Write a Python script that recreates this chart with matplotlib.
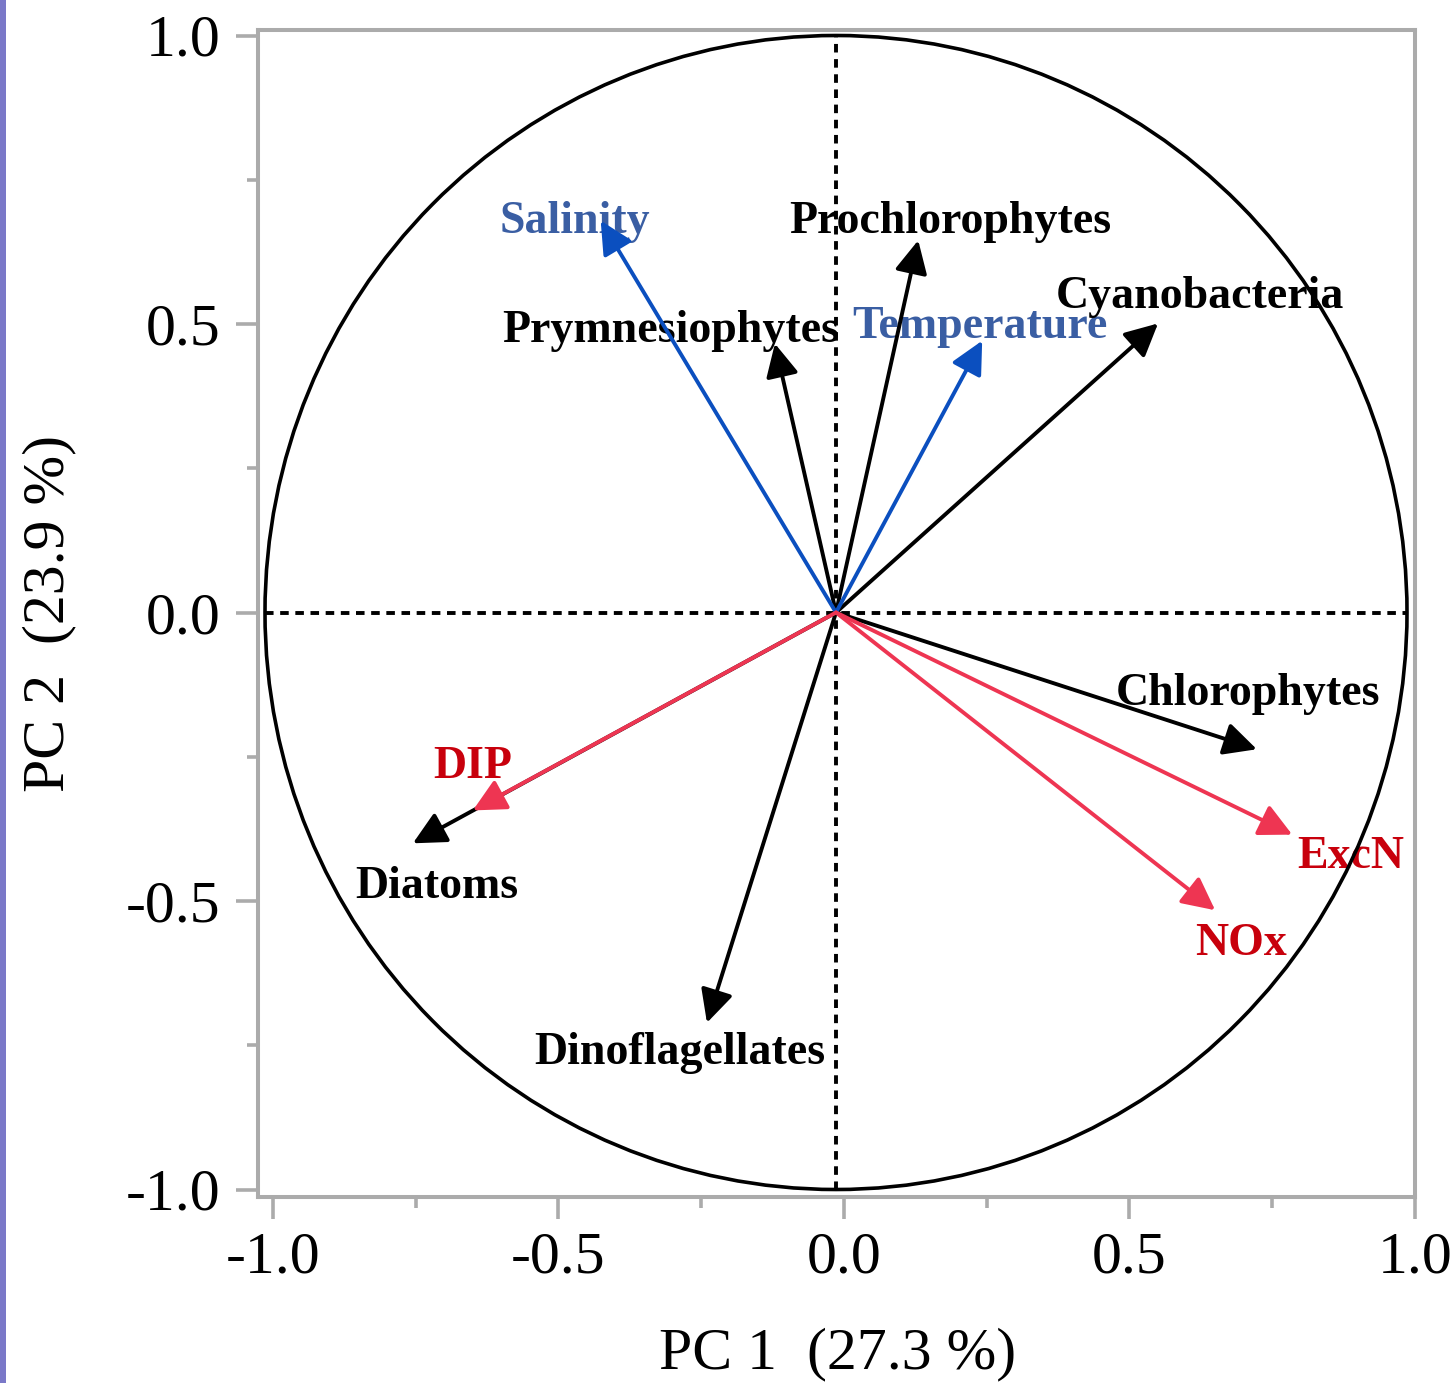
import matplotlib
matplotlib.use("Agg")
import matplotlib.pyplot as plt
from matplotlib.patches import Ellipse, Rectangle
from matplotlib.ticker import FixedLocator

plt.rcParams['font.family'] = ['Liberation Serif', 'DejaVu Serif']
plt.rcParams['axes.unicode_minus'] = False

# ---- data: PCA loadings (PC1, PC2) ----
variables = ["Salinity", "Prymnesiophytes", "Prochlorophytes", "Temperature",
             "Cyanobacteria", "Chlorophytes", "ExcN", "NOx", "DIP",
             "Diatoms", "Dinoflagellates"]
pc1 = [-0.412, -0.107, 0.144, 0.256, 0.564, 0.737, 0.799, 0.664, -0.636, -0.741, -0.226]
pc2 = [0.679, 0.466, 0.645, 0.471, 0.501, -0.237, -0.385, -0.516, -0.343, -0.400, -0.711]
groups = ["env", "phyto", "phyto", "env", "phyto", "phyto", "nut", "nut", "nut",
          "phyto", "phyto"]

pc1_pct = 27.3
pc2_pct = 23.9
tick_values = [-1.0, -0.5, 0.0, 0.5, 1.0]
tick_labels = ["-1.0", "-0.5", "0.0", "0.5", "1.0"]
minor_values = [-0.75, -0.25, 0.25, 0.75]

# ---- styles / layout ----
arrow_colors = {"env": "#0b4fbf", "phyto": "#000000", "nut": "#ee3552"}
text_colors = {"env": "#3a5ea3", "phyto": "#000000", "nut": "#c8000c"}
arrow_z = {"phyto": 4, "env": 5, "nut": 5}
label_pos = {
    "Salinity": (-0.457, 0.657),
    "Prymnesiophytes": (-0.289, 0.468),
    "Prochlorophytes": (0.200, 0.657),
    "Temperature": (0.252, 0.475),
    "Cyanobacteria": (0.637, 0.527),
    "Chlorophytes": (0.722, -0.161),
    "ExcN": (0.902, -0.442),
    "NOx": (0.709, -0.594),
    "DIP": (-0.636, -0.286),
    "Diatoms": (-0.699, -0.494),
    "Dinoflagellates": (-0.273, -0.782),
}
xshift = 0.014  # bottom tick scale is drawn slightly offset from plot origin

W, H = 1454, 1383
fig = plt.figure(figsize=(W / 100, H / 100), dpi=100)
fig.patches.append(Rectangle((0, 0), 6 / W, 1, transform=fig.transFigure,
                             facecolor="#7a78c8", edgecolor="none"))

ax = fig.add_axes([258 / W, (H - 1197) / H, (1415 - 258) / W, (1197 - 30) / H])
ax.set_xlim((258 - 836) / 571, (1415 - 836) / 571)
ax.set_ylim((612.5 - 1197) / 577, (612.5 - 30) / 577)

gray = "#ababab"
for s in ax.spines.values():
    s.set_color(gray)
    s.set_linewidth(2.9)

# circle and dashed axes
ax.add_patch(Ellipse((0, 0), 2, 2, fill=False, edgecolor="black", lw=2.6, zorder=3))
ax.plot([-1, 1], [0, 0], color="black", lw=2.8, dashes=(2.2, 1.7), zorder=3)
ax.plot([0, 0], [-1, 1], color="black", lw=2.8, dashes=(2.2, 1.7), zorder=3)

# labels (behind arrows)
for name, x, y, g in zip(variables, pc1, pc2, groups):
    lx, ly = label_pos[name]
    ax.text(lx, ly, name, ha="center", va="baseline", fontsize=33,
            fontweight="bold", color=text_colors[g], zorder=2)

# arrows
for name, x, y, g in zip(variables, pc1, pc2, groups):
    ax.annotate("", xy=(x, y), xytext=(0, 0),
                arrowprops=dict(arrowstyle="-|>,head_length=1.0,head_width=0.5",
                                mutation_scale=20, color=arrow_colors[g], lw=2.8,
                                shrinkA=0, shrinkB=0), zorder=arrow_z[g])

# ticks
ax.yaxis.set_major_locator(FixedLocator(tick_values))
ax.set_yticklabels(tick_labels)
ax.yaxis.set_minor_locator(FixedLocator(minor_values))
ax.xaxis.set_major_locator(FixedLocator([v + xshift for v in tick_values]))
ax.set_xticklabels(tick_labels)
ax.xaxis.set_minor_locator(FixedLocator([v + xshift for v in minor_values]))

ax.tick_params(axis="both", which="major", length=16, width=2.6, color=gray,
               labelsize=43, labelcolor="black")
ax.tick_params(axis="both", which="minor", length=8, width=2.6, color=gray)
ax.tick_params(axis="y", which="major", pad=11)
ax.tick_params(axis="x", which="major", pad=9)

for t, lab in zip(ax.yaxis.get_major_ticks(), tick_labels):
    if lab == "0.0":
        t.tick1line.set_color("black")
for t, lab in zip(ax.xaxis.get_major_ticks(), tick_labels):
    if lab == "0.0":
        t.tick1line.set_color("black")

ax.set_xlabel(f"PC 1  ({pc1_pct} %)", fontsize=43)
ax.set_ylabel(f"PC 2  ({pc2_pct} %)", fontsize=43)
ax.xaxis.set_label_coords(0.501, -0.112)
ax.yaxis.set_label_coords(-0.157, 0.5)

fig.savefig("out.png", dpi=100)
